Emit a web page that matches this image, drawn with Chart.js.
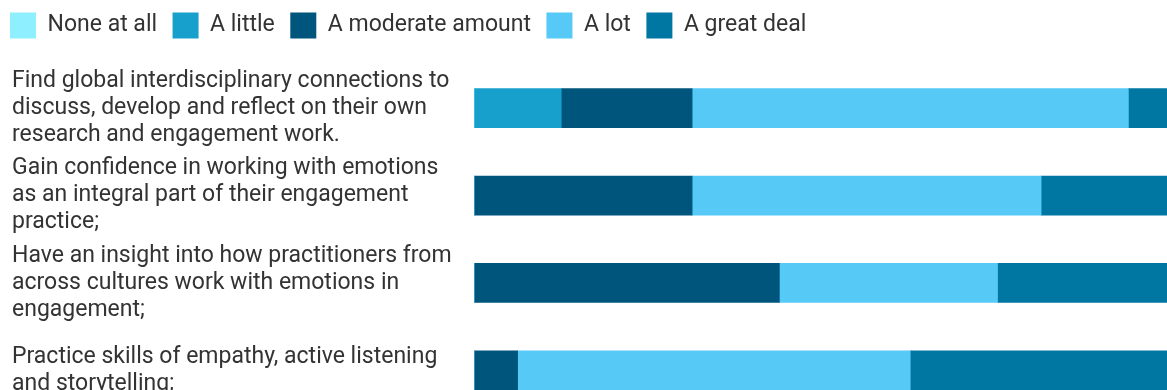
<!DOCTYPE html>
<html>
<head>
<meta charset="utf-8">
<script src="https://cdn.jsdelivr.net/npm/chart.js@4.4.1/dist/chart.umd.min.js"></script>
<style>
  html, body { margin: 0; padding: 0; background: #fff; overflow: hidden; }
  #wrap { width: 1176px; height: 414px; }
</style>
</head>
<body>
<div id="wrap"><canvas id="chart" width="1176" height="414"></canvas></div>
<script>
// survey statements (one row each)
const statements = [
  ['Find global interdisciplinary connections to', 'discuss, develop and reflect on their own', 'research and engagement work.'],
  ['Gain confidence in working with emotions', 'as an integral part of their engagement', 'practice;'],
  ['Have an insight into how practitioners from', 'across cultures work with emotions in', 'engagement;'],
  ['Practice skills of empathy, active listening', 'and storytelling;']
];

// answer counts per statement (16 respondents)
const noneAtAll = [0, 0, 0, 0];
const aLittle = [2, 0, 0, 0];
const aModerateAmount = [3, 5, 7, 1];
const aLot = [10, 8, 5, 9];
const aGreatDeal = [1, 3, 4, 6];
const respondents = 16;

const seriesNames = ['None at all', 'A little', 'A moderate amount', 'A lot', 'A great deal'];
const seriesValues = [noneAtAll, aLittle, aModerateAmount, aLot, aGreatDeal];
const seriesColors = ['#8ef0ff', '#18a0cc', '#00557c', '#57c9f7', '#0077a3'];

const textColor = '#333333';
const fontFamily = 'Roboto, sans-serif';

const datasets = seriesNames.map((name, i) => ({
  label: name,
  data: seriesValues[i],
  backgroundColor: seriesColors[i],
  borderWidth: 0,
  barThickness: 39
}));

// extra room under the legend, and legend pulled to the left edge
const legendPlacement = {
  id: 'legendPlacement',
  beforeInit(chart) {
    const fit = chart.legend.fit;
    chart.legend.fit = function () {
      fit.bind(chart.legend)();
      this.height += 13;
    };
  },
  afterLayout(chart) {
    chart.legend.left -= 17.5;
    chart.legend.top -= 3;
  }
};

new Chart(document.getElementById('chart'), {
  type: 'bar',
  data: { labels: statements, datasets },
  plugins: [legendPlacement],
  options: {
    indexAxis: 'y',
    responsive: false,
    animation: false,
    devicePixelRatio: 1,
    layout: { padding: { left: 12, right: 4, top: 0, bottom: 0 } },
    plugins: {
      legend: {
        align: 'start',
        labels: {
          boxWidth: 26,
          boxHeight: 26,
          padding: 15.5,
          color: textColor,
          font: { family: fontFamily, size: 23 }
        }
      },
      tooltip: { enabled: false }
    },
    scales: {
      x: {
        stacked: true,
        min: 0,
        max: respondents,
        display: false
      },
      y: {
        stacked: true,
        grid: { display: false },
        border: { display: false },
        ticks: {
          crossAlign: 'far',
          color: textColor,
          font: { family: fontFamily, size: 23, lineHeight: '27px' }
        },
        afterFit(scale) {
          scale.width = 462;
          // the multi-line labels should not shrink the plot
          scale.paddingTop = 0;
          scale.paddingBottom = 0;
        }
      }
    }
  }
});
</script>
</body>
</html>
